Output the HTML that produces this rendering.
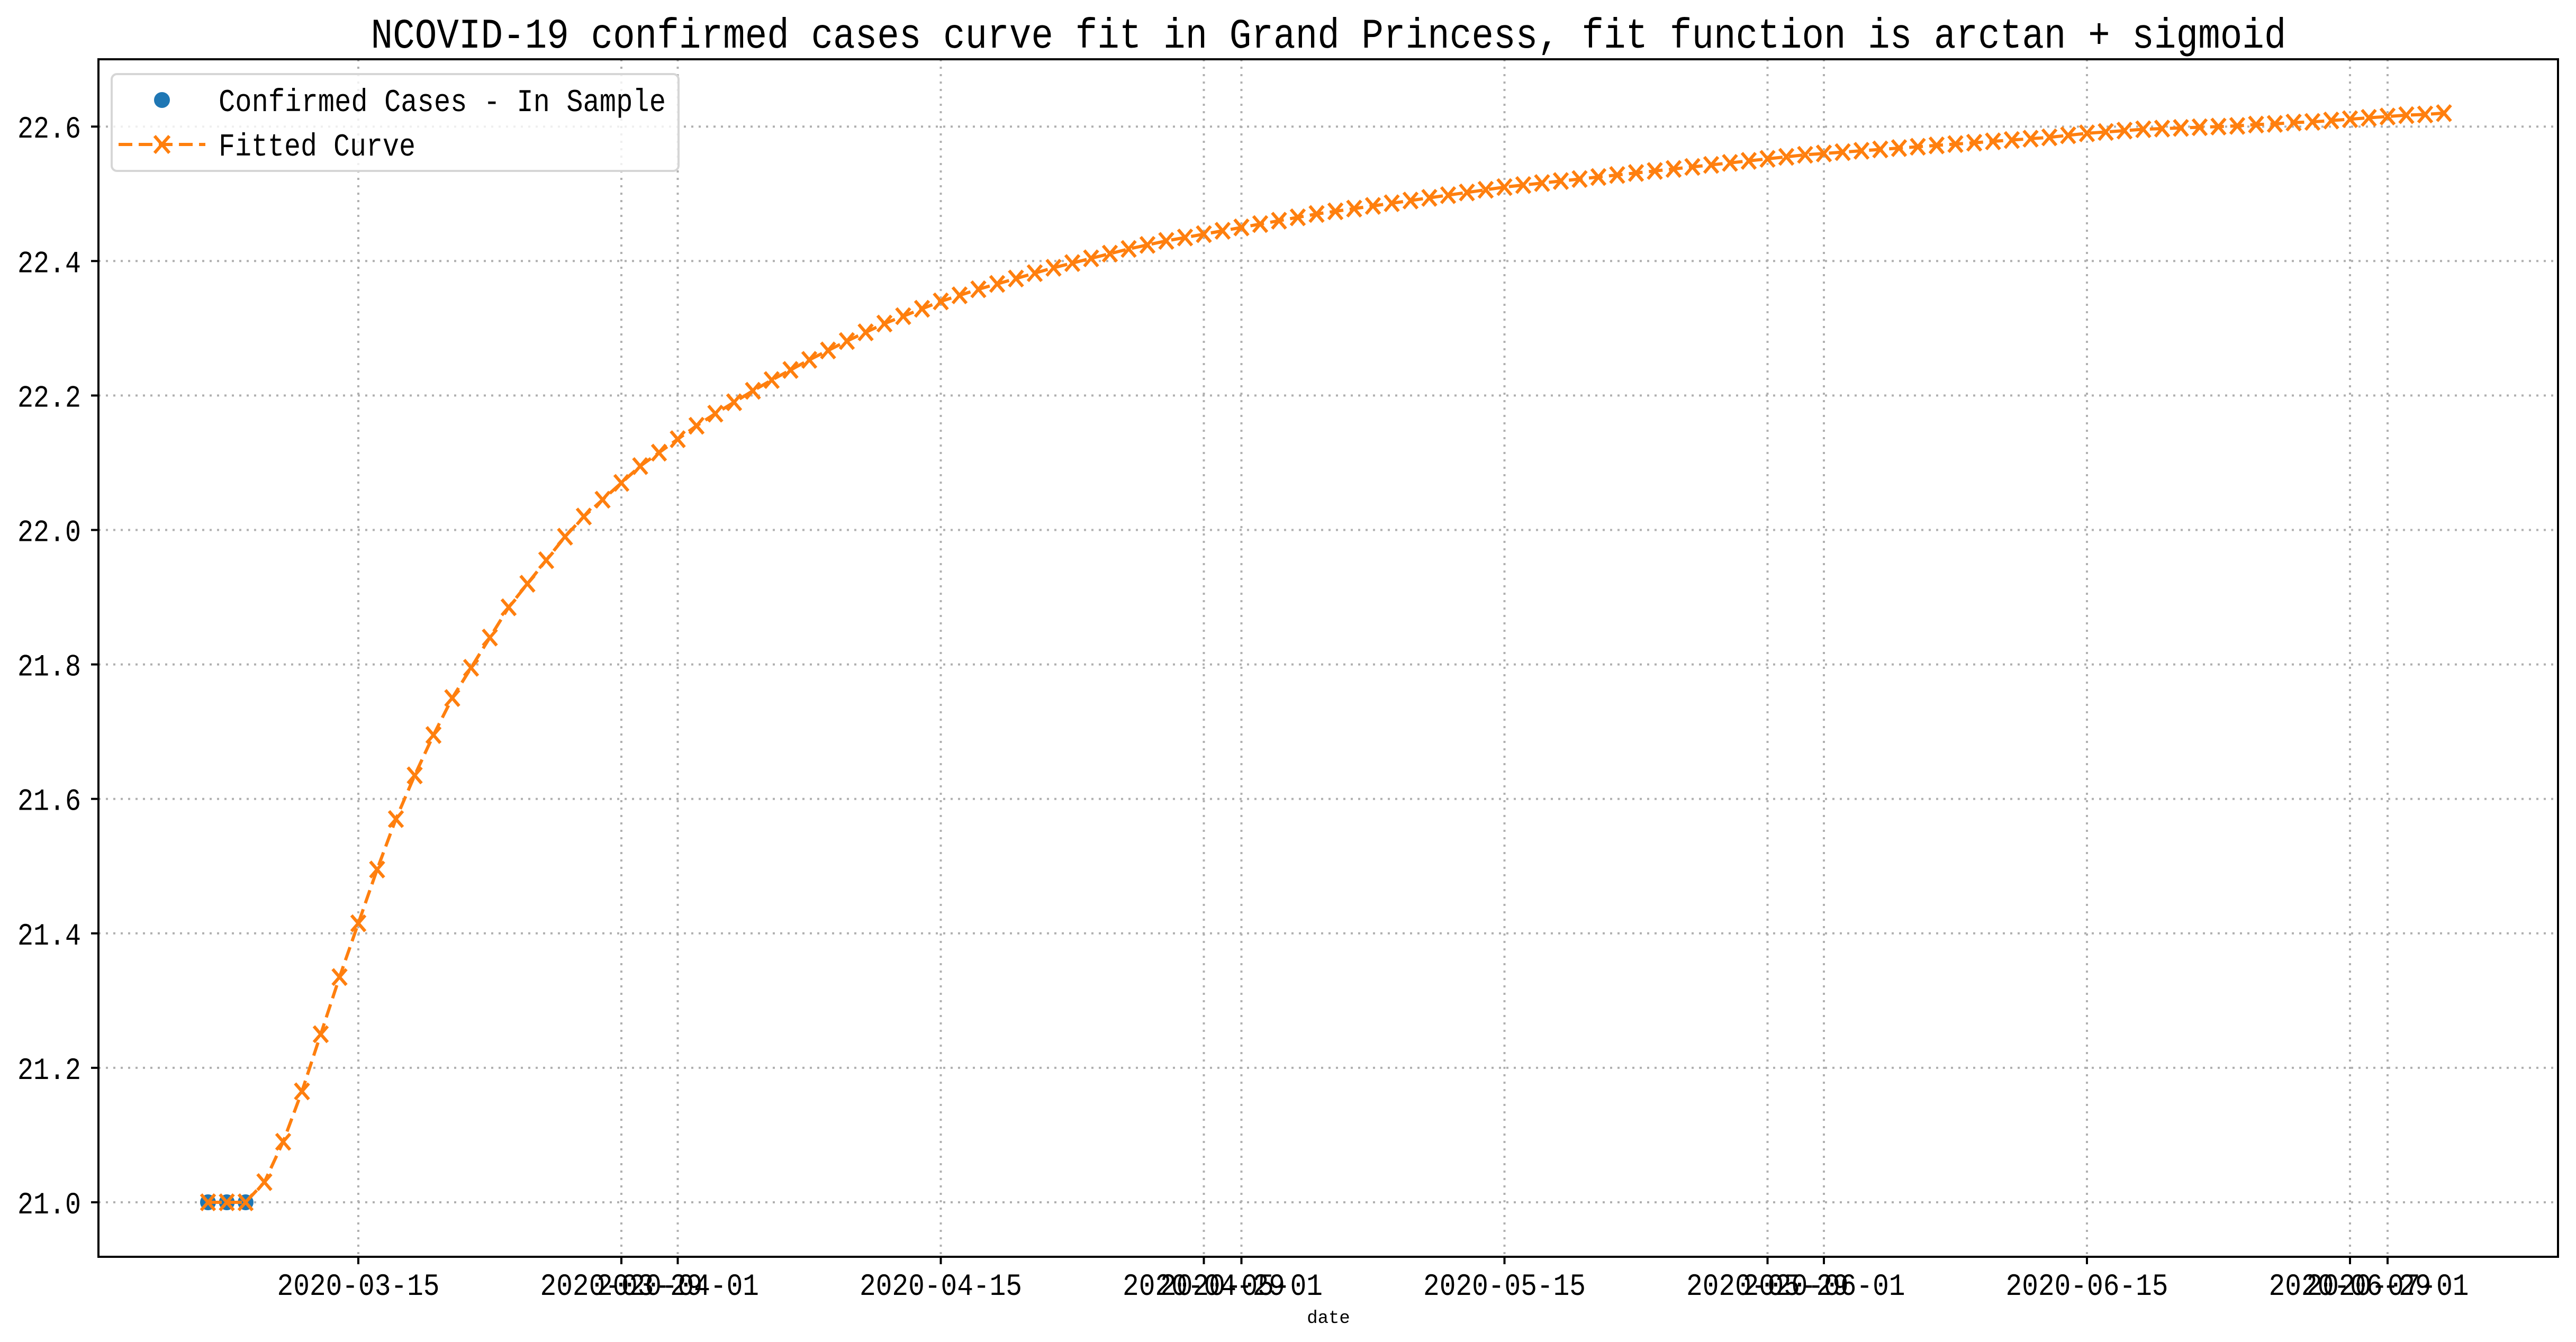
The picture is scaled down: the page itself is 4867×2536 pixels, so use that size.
<!DOCTYPE html>
<html><head><meta charset="utf-8"><style>
html,body{margin:0;padding:0;background:#fff;}
svg{display:block;font-family:"Liberation Mono","IPAGothic","Noto Sans CJK SC",monospace;}
</style></head><body>
<svg id="chart" width="4867" height="2536" viewBox="0 0 4867 2536" xmlns="http://www.w3.org/2000/svg">
<rect x="0" y="0" width="4867" height="2536" fill="#fff"/>
<text x="2510" y="90" font-size="80" text-anchor="middle" textLength="3619" lengthAdjust="spacingAndGlyphs">NCOVID-19 confirmed cases curve fit in Grand Princess, fit function is arctan + sigmoid</text>
<g id="grid"></g>
<g id="xaxis"></g>
<g id="yaxis"></g>
<g id="series"></g>
<rect x="186" y="112" width="4647" height="2263" fill="none" stroke="#000" stroke-width="4"/>
<text x="2510" y="2500" font-size="34" text-anchor="middle">date</text>
<g>
<rect x="211" y="140" width="1071" height="183" rx="10" fill="#fff" fill-opacity="0.8" stroke="#d6d6d6" stroke-width="4"/>
<g>
<circle cx="306" cy="189" r="15" fill="#1f77b4"/>
<text x="413" y="210" font-size="60" textLength="845" lengthAdjust="spacingAndGlyphs">Confirmed Cases - In Sample</text>
</g>
<g>
<line x1="224" y1="273" x2="388" y2="273" stroke="#ff7f0e" stroke-width="6" stroke-dasharray="26,12"/>
<path d="M292 257 L320 289 M320 257 L292 289" stroke="#ff7f0e" stroke-width="6"/>
<text x="413" y="294" font-size="60" textLength="372" lengthAdjust="spacingAndGlyphs">Fitted Curve</text>
</g>
</g>
</svg>
<script>
const sampleDates = ["2020-03-07","2020-03-08","2020-03-09"];
const sampleValues = [21.0, 21.0, 21.0];
const fitStart = "2020-03-07";
const fitValues = [21.0,21.0,21.0,21.03,21.09,21.165,21.25,21.335,21.415,21.495,21.57,21.635,21.695,21.75,21.795,21.84,21.885,21.92,21.955,21.99,22.02,22.045,22.07,22.095,22.115,22.135,
22.155,22.173,22.19,22.207,22.223,22.238,22.253,22.267,22.281,22.294,22.307,22.318,22.329,22.34,
22.349,22.358,22.366,22.374,22.382,22.39,22.397,22.404,22.411,22.418,22.424,22.43,22.435,22.44,22.445,22.45,
22.455,22.46,22.465,22.47,22.474,22.478,22.482,22.486,22.49,22.494,22.498,22.502,22.506,22.51,
22.513,22.516,22.519,22.522,22.525,22.528,22.531,22.534,22.537,22.54,22.543,22.546,22.549,22.552,22.555,22.558,22.56,
22.562,22.564,22.566,22.568,22.57,22.572,22.574,22.576,22.578,22.58,22.582,22.584,22.587,22.59,
22.592,22.594,22.596,22.597,22.598,22.599,22.6,22.601,22.603,22.604,22.606,22.607,22.609,22.611,22.613,22.615,
22.617,22.618,22.62];
const xTickLabels = ["2020-03-15","2020-03-29","2020-04-01","2020-04-15","2020-04-29","2020-05-01","2020-05-15","2020-05-29","2020-06-01","2020-06-15","2020-06-29","2020-07-01"];
const yTickValues = [21.0,21.2,21.4,21.6,21.8,22.0,22.2,22.4,22.6];

const NS = "http://www.w3.org/2000/svg";
const DAY = 86400000;
const X0 = Date.UTC(2020,2,15), PX0 = 677, PPD = 35.5;
function parseDate(s){const p=s.split("-").map(Number);return Date.UTC(p[0],p[1]-1,p[2]);}
function xScale(t){return PX0 + (t - X0)/DAY*PPD;}
function yScale(v){return 2272 - (v-21.0)/0.2*254.1;}
function mk(tag, attrs, parent){const e=document.createElementNS(NS,tag);for(const k in attrs)e.setAttribute(k,attrs[k]);parent.appendChild(e);return e;}
const grid=document.getElementById("grid"), xa=document.getElementById("xaxis"), ya=document.getElementById("yaxis"), ser=document.getElementById("series");

xTickLabels.forEach(function(lab){
  const x=xScale(parseDate(lab));
  const g=mk("line",{x1:x,y1:112,x2:x,y2:2375,stroke:"#b0b0b0","stroke-width":4,"stroke-dasharray":"4,10"},grid);
  
  
  const t=mk("line",{x1:x,y1:2375,x2:x,y2:2389,stroke:"#000","stroke-width":4},xa);
  
  
  const tx=mk("text",{x:x,y:2447,"font-size":58,"text-anchor":"middle",textLength:307,lengthAdjust:"spacingAndGlyphs"},xa);
  tx.textContent=lab;
  
  
});
yTickValues.forEach(function(v){
  const y=yScale(v);
  const g=mk("line",{x1:186,y1:y,x2:4833,y2:y,stroke:"#b0b0b0","stroke-width":4,"stroke-dasharray":"4,10"},grid);
  
  
  const t=mk("line",{x1:172,y1:y,x2:186,y2:y,stroke:"#000","stroke-width":4},ya);
  
  
  const tx=mk("text",{x:153,y:y+21,"font-size":58,"text-anchor":"end",textLength:120,lengthAdjust:"spacingAndGlyphs"},ya);
  tx.textContent=v.toFixed(1);
  
  
});
sampleDates.forEach(function(d,i){
  const c=mk("circle",{cx:xScale(parseDate(d)),cy:yScale(sampleValues[i]),r:15,fill:"#1f77b4"},ser);
  
  
});
const t0=parseDate(fitStart);
const pts=fitValues.map(function(v,i){return [xScale(t0+i*DAY), yScale(v)];});
const line=mk("polyline",{points:pts.map(p=>p.join(",")).join(" "),fill:"none",stroke:"#ff7f0e","stroke-width":6,"stroke-dasharray":"26,12"},ser);


pts.forEach(function(p){
  const m=mk("path",{d:"M"+(p[0]-13)+" "+(p[1]-15)+" L"+(p[0]+13)+" "+(p[1]+15)+" M"+(p[0]+13)+" "+(p[1]-15)+" L"+(p[0]-13)+" "+(p[1]+15),stroke:"#ff7f0e","stroke-width":6},ser);
  
  
});
</script>
</body></html>
